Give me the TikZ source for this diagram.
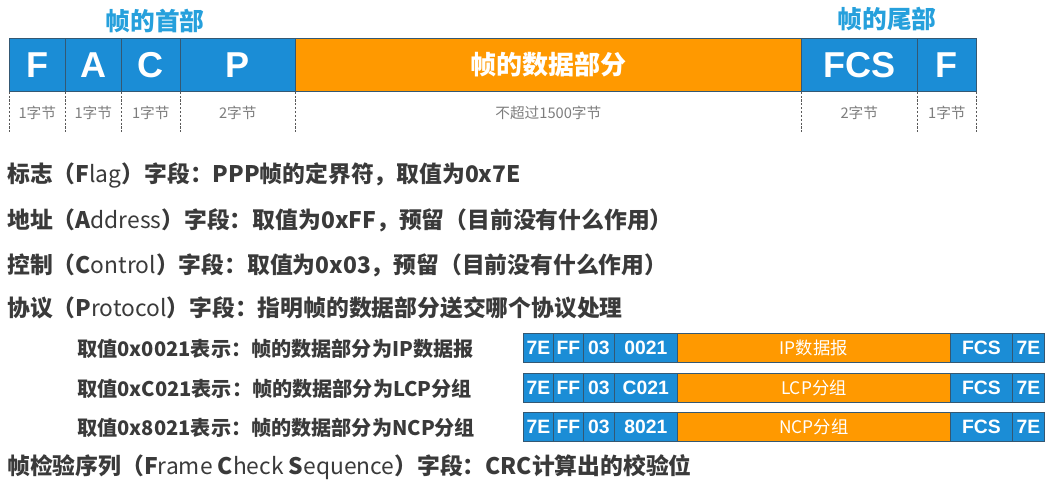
\documentclass[tikz,border=0pt]{standalone}
\usepackage{fontspec}
\setmainfont{Noto Sans CJK SC}
\newfontfamily\boxfont{Liberation Sans}
\usetikzlibrary{positioning}
\definecolor{pppblue}{RGB}{27,141,214}
\definecolor{ppporange}{RGB}{255,153,0}
\definecolor{headblue}{RGB}{38,160,220}
\definecolor{celline}{RGB}{52,88,115}
\definecolor{txtgray}{RGB}{58,58,58}
\definecolor{lblgray}{RGB}{125,125,125}
\newcommand\rglr[1]{{\mdseries #1}}
\tikzset{
  field/.style={draw=celline,line width=0.5pt,fill=pppblue,text=white,inner sep=0pt,anchor=north west},
  datafield/.style={field,fill=ppporange},
  bigbox/.style={minimum height=39.75pt,font=\fontsize{27}{27}\selectfont\boxfont\bfseries},
  smallbox/.style={minimum height=21.75pt,font=\fontsize{14.5}{15}\selectfont\boxfont\bfseries},
  bytelab/.style={text=lblgray,font=\fontsize{11}{12}\selectfont},
  guide/.style={dash pattern=on 1.6pt off 1.3pt,line width=0.6pt,gray!70!black},
  head/.style={text=headblue,font=\fontsize{18.5}{20}\selectfont\bfseries},
  desc/.style={anchor=west,text=txtgray,inner sep=0pt,font=\fontsize{17.1}{18}\selectfont\bfseries},
  subdesc/.style={desc,font=\fontsize{15.1}{16}\selectfont\bfseries},
}

\begin{document}
\begin{tikzpicture}[x=0.75pt,y=-0.75pt]
\useasboundingbox (0,0) rectangle (1052,491);
% frame layout
\foreach \nm/\xa/\xb/\lab in {hF/9/65/F,hA/65/121/A,hC/121/180/C,hP/180/295/P,hFCS/801/917/FCS,hE/917/976/F}
  \node[field,bigbox,minimum width={(\xb-\xa)*0.75pt}] (\nm) at (\xa,38) {\lab};
\node[datafield,bigbox,minimum width={506*0.75pt},font=\fontsize{19.5}{20}\selectfont\bfseries] (hD) at (295,38) {帧的数据部分};
\node[head] (headH) at (155,21) {帧的首部};
\node[head] (headT) at (887,19) {帧的尾部};
% byte counts
\coordinate (gbase) at (0,133);
\foreach \nm in {hF,hA,hC,hP,hD,hFCS,hE}
  \draw[guide] (\nm.south west) -- (\nm.south west |- gbase);
\draw[guide] (hE.south east) -- (hE.south east |- gbase);
\foreach \nm/\lab in {hF/1字节,hA/1字节,hC/1字节,hP/2字节,hD/不超过1500字节,hFCS/2字节,hE/1字节}
  \node[bytelab] (b\nm) at (\nm.south |- 0,113) {\lab};
% field notes
\node[desc] (nflag) at (7,175) {标志（F\rglr{lag}）字段：PPP帧的定界符，取值为0x7E};
\node[desc] (naddr) at (7,220) {地址（A\rglr{ddress}）字段：取值为0xFF，预留（目前没有什么作用）};
\node[desc] (nctrl) at (7,265) {控制（C\rglr{ontrol}）字段：取值为0x03，预留（目前没有什么作用）};
\node[desc] (nprot) at (7,308) {协议（P\rglr{rotocol}）字段：指明帧的数据部分送交哪个协议处理};
\node[desc] (nfcs) at (7,467) {帧检验序列（F\rglr{rame} C\rglr{heck} S\rglr{equence}）字段：CRC计算出的校验位};
% protocol examples
\foreach \r/\yt/\code/\pl in {ip/333/0021/IP数据报,lcp/373/C021/LCP分组,ncp/412/8021/NCP分组} {
  \foreach \k/\xa/\xb/\lab in {a/523/553/7E,b/553/583/FF,c/583/614/03,d/614/677/\code,f/950/1012/FCS,g/1012/1044/7E}
    \node[field,smallbox,minimum width={(\xb-\xa)*0.75pt}] (\r\k) at (\xa,\yt) {\lab};
  \node[datafield,smallbox,minimum width={273*0.75pt},font=\fontsize{13}{13}\selectfont] (\r e) at (677,\yt) {\pl};
  \node[subdesc] (s\r) at (77,\yt+16) {取值0x\code 表示：帧的数据部分为\pl};
}
\end{tikzpicture}
\end{document}
